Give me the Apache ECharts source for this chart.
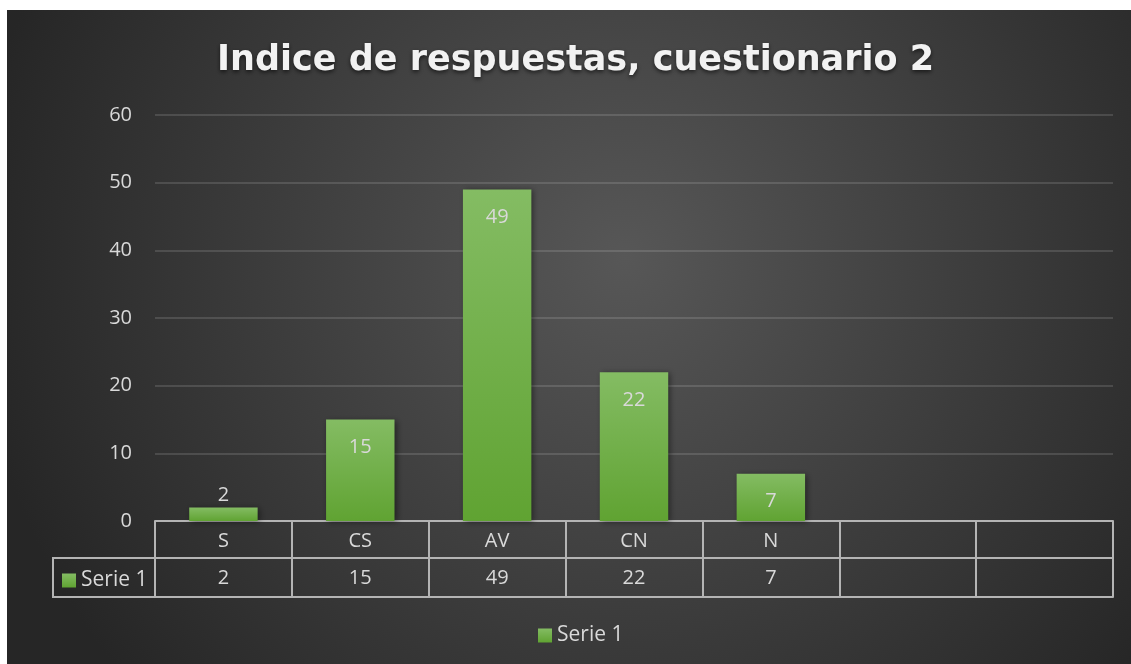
<!DOCTYPE html>
<html>
<head>
<meta charset="utf-8">
<script src="https://cdn.jsdelivr.net/npm/echarts@6/dist/echarts.min.js"></script>
<style>
  html, body { margin: 0; padding: 0; background: #fff; }
  #main { position: absolute; left: 7px; top: 10px; width: 1124px; height: 654px; }
</style>
</head>
<body>
<div id="main"></div>
<script>
// chart data
var titleText = 'Indice de respuestas, cuestionario 2';
var seriesName = 'Serie 1';
var categories = ['S', 'CS', 'AV', 'CN', 'N', '', ''];
var values = [2, 15, 49, 22, 7];
var yTicks = { min: 0, max: 60, interval: 10 };

var LINE = '#b4b4b4';
var TXT = '#d9d9d9';
var ROW = 37;       // table row height
var LEFTCOL = 102;  // width of the series-name column

var valueRow = categories.map(function (c, i) {
  return i < values.length ? String(values[i]) : '';
});

var barData = values.map(function (v) {
  return {
    value: v,
    label: v < 5
      ? { position: 'top', distance: 2 }
      : { position: 'insideTop', distance: 18 }
  };
});

var green = new echarts.graphic.LinearGradient(0, 0, 0, 1, [
  { offset: 0, color: '#84bc63' },
  { offset: 1, color: '#60a332' }
]);

var myChart = echarts.init(document.getElementById('main'));

myChart.setOption({
  backgroundColor: new echarts.graphic.RadialGradient(0.55, 0.38, 1.0, [
    { offset: 0, color: '#575757' },
    { offset: 1, color: '#262626' }
  ]),
  animation: false,
  title: {
    text: titleText,
    left: 205,
    top: 28,
    textStyle: {
      fontFamily: 'DejaVu Sans',
      fontWeight: 'bold',
      fontSize: 35,
      color: '#f2f2f2',
      textShadowColor: 'rgba(0,0,0,0.6)',
      textShadowBlur: 4,
      textShadowOffsetY: 2
    }
  },
  legend: [{
    data: [seriesName],
    bottom: 13,
    left: 526,
    icon: 'rect',
    itemWidth: 14,
    itemHeight: 14,
    itemGap: 6,
    textStyle: { color: TXT, fontSize: 21, fontFamily: 'Open Sans' }
  }, {
    data: [seriesName],
    left: 50,
    top: 555,
    icon: 'rect',
    itemWidth: 14,
    itemHeight: 14,
    itemGap: 6,
    selectedMode: false,
    textStyle: { color: TXT, fontSize: 21, fontFamily: 'Open Sans' }
  }],
  grid: { left: 148, right: 18, top: 105, bottom: 143, containLabel: false },
  yAxis: {
    type: 'value',
    min: yTicks.min,
    max: yTicks.max,
    interval: yTicks.interval,
    axisLine: { show: false },
    axisTick: { show: false },
    axisLabel: { color: TXT, fontSize: 20, margin: 23, fontFamily: 'Open Sans' },
    splitLine: { lineStyle: { color: 'rgba(255,255,255,0.13)', width: 2 } }
  },
  xAxis: [{
    type: 'category',
    data: categories,
    position: 'bottom',
    axisLine: { lineStyle: { color: LINE, width: 2 } },
    axisTick: { show: true, interval: 0, length: ROW * 2 + 2, lineStyle: { color: LINE, width: 2 } },
    axisLabel: { interval: 0, color: TXT, fontSize: 20, margin: 10, fontFamily: 'Open Sans' }
  }, {
    type: 'category',
    data: valueRow,
    position: 'bottom',
    offset: ROW,
    axisLine: { lineStyle: { color: LINE, width: 2 } },
    axisTick: { show: false },
    axisLabel: { interval: 0, color: TXT, fontSize: 20, margin: 10, fontFamily: 'Open Sans' }
  }, {
    type: 'category',
    data: categories,
    position: 'bottom',
    offset: ROW * 2 + 2,
    axisLine: { lineStyle: { color: LINE, width: 2 } },
    axisTick: { show: false },
    axisLabel: { show: false }
  }],
  series: [{
    name: seriesName,
    type: 'bar',
    xAxisIndex: 0,
    data: barData,
    barWidth: '50%',
    itemStyle: {
      color: green,
      shadowColor: 'rgba(0,0,0,0.45)',
      shadowBlur: 6,
      shadowOffsetX: 2,
      shadowOffsetY: 1
    },
    label: {
      show: true,
      color: TXT,
      fontSize: 20,
      fontFamily: 'Open Sans'
    }
  }]
});

// series-name column of the data table, placed from the axis scales
var c0 = myChart.convertToPixel({ xAxisIndex: 0 }, categories[0]);
var c1 = myChart.convertToPixel({ xAxisIndex: 0 }, categories[1]);
var leftEdge = c0 - (c1 - c0) / 2;
var y0 = myChart.convertToPixel({ yAxisIndex: 0 }, 0);
var r1 = y0 + ROW, r2 = y0 + ROW * 2 + 2;
var ls = { stroke: LINE, lineWidth: 2 };

myChart.setOption({
  graphic: [
    { type: 'line', shape: { x1: leftEdge - LEFTCOL, y1: r1, x2: leftEdge, y2: r1 }, style: ls },
    { type: 'line', shape: { x1: leftEdge - LEFTCOL, y1: r2, x2: leftEdge, y2: r2 }, style: ls },
    { type: 'line', shape: { x1: leftEdge - LEFTCOL, y1: r1 - 1, x2: leftEdge - LEFTCOL, y2: r2 + 1 }, style: ls }
  ]
});
</script>
</body>
</html>
